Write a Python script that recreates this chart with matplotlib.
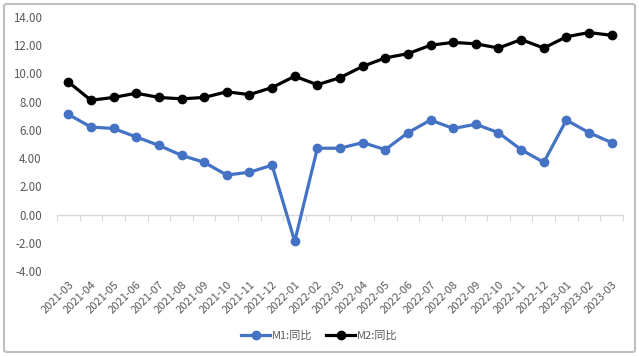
import numpy as np
import matplotlib.pyplot as plt
from matplotlib.patches import FancyBboxPatch

plt.rcParams['font.family'] = ['Noto Sans CJK SC', 'DejaVu Sans']

months = ["2021-03", "2021-04", "2021-05", "2021-06", "2021-07", "2021-08",
          "2021-09", "2021-10", "2021-11", "2021-12", "2022-01", "2022-02",
          "2022-03", "2022-04", "2022-05", "2022-06", "2022-07", "2022-08",
          "2022-09", "2022-10", "2022-11", "2022-12", "2023-01", "2023-02",
          "2023-03"]
m1 = [7.1, 6.2, 6.1, 5.5, 4.9, 4.2, 3.7, 2.8, 3.0, 3.5, -1.9, 4.7, 4.7,
      5.1, 4.6, 5.8, 6.7, 6.1, 6.4, 5.8, 4.6, 3.7, 6.7, 5.8, 5.1]
m2 = [9.4, 8.1, 8.3, 8.6, 8.3, 8.2, 8.3, 8.7, 8.5, 9.0, 9.8, 9.2, 9.7,
      10.5, 11.1, 11.4, 12.0, 12.2, 12.1, 11.8, 12.4, 11.8, 12.6, 12.9, 12.7]
yticks = [-4, -2, 0, 2, 4, 6, 8, 10, 12, 14]

fig = plt.figure(figsize=(6.39, 3.56), dpi=100)
ax = fig.add_axes([57/639, 1 - 271/356, 566/639, 254/356])

x = np.arange(len(months))
grey = "#595959"
ax.plot(x, m1, color="#4472C4", lw=2.3, marker="o", ms=6, label="M1:同比")
ax.plot(x, m2, color="black", lw=2.3, marker="o", ms=6, label="M2:同比")

ax.set_xlim(-0.5, len(months) - 0.5)
ax.set_ylim(-4, 14)
ax.set_yticks(yticks)
ax.set_yticklabels(["%.2f" % v for v in yticks], color=grey, fontsize=8.3)
ax.tick_params(axis="y", length=0, pad=11)

ax.set_xticks(x)
ax.set_xticklabels(months, rotation=45, ha="right", rotation_mode="anchor",
                   color=grey, fontsize=8)
ax.tick_params(axis="x", length=0, pad=6)

for s in ax.spines.values():
    s.set_visible(False)

# zero line with tick marks between categories
zero = (0 - (-4)) / (14 - (-4))
sec = ax.secondary_xaxis(zero)
sec.set_xticks(np.arange(len(months) + 1) - 0.5)
sec.set_xticklabels([])
sec.tick_params(length=4, color="#D9D9D9", width=0.8)
sec.spines["bottom"].set_color("#D9D9D9")
sec.spines["bottom"].set_linewidth(1)
ax.set_zorder(2)

fig.legend(loc="center", bbox_to_anchor=(0.5, 1 - 336/356), ncol=2,
           frameon=False, fontsize=8, labelcolor=grey, handlelength=2.6,
           columnspacing=1.2, handletextpad=0.2)

border = FancyBboxPatch((4/639, 4/356), 631/639, 348/356,
                        boxstyle="round,pad=0,rounding_size=0.005",
                        transform=fig.transFigure, fill=False,
                        edgecolor="#BFBFBF", lw=1.5)
fig.patches.append(border)

fig.savefig("out.png", dpi=100)
